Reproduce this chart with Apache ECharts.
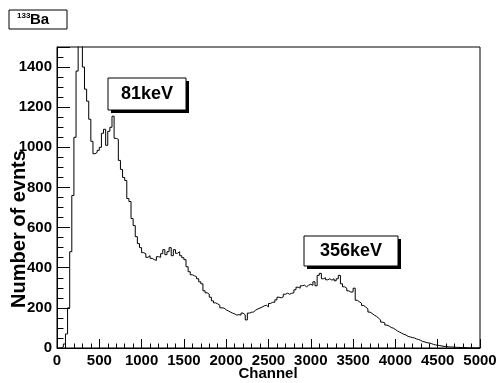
<!DOCTYPE html>
<html><head><meta charset="utf-8">
<script src="https://cdn.jsdelivr.net/npm/echarts@6/dist/echarts.min.js"></script>
<style>html,body{margin:0;padding:0;background:#fff}#c{width:500px;height:383px}</style>
</head><body><div id="c"></div>
<script>
// histogram: bin width in channels, counts per bin starting at channel 0
const binWidth = 25;
const counts = [
  0, 0, 5, 20, 70, 200, 480, 760,
  1050, 1380, 1520, 1520, 1400, 1290, 1230, 1140,
  1030, 968, 975, 985, 1000, 1070, 1090, 1010,
  1080, 1100, 1155, 1045, 1040, 935, 890, 850,
  835, 745, 730, 645, 610, 555, 520, 500,
  475, 470, 452, 460, 447, 440, 437, 455,
  452, 470, 490, 465, 480, 500, 460, 490,
  472, 480, 460, 450, 440, 405, 380, 365,
  360, 355, 345, 330, 320, 285, 275, 268,
  253, 235, 225, 220, 213, 200, 199, 190,
  185, 179, 174, 170, 164, 166, 164, 174,
  165, 140, 174, 178, 180, 189, 195, 199,
  204, 210, 213, 205, 222, 228, 228, 240,
  253, 250, 255, 268, 273, 268, 273, 275,
  290, 303, 298, 310, 313, 305, 313, 318,
  312, 330, 310, 362, 372, 345, 350, 340,
  345, 338, 345, 335, 345, 362, 320, 305,
  298, 285, 278, 280, 298, 238, 230, 223,
  212, 204, 195, 179, 172, 164, 158, 149,
  140, 129, 125, 114, 110, 102, 99, 92,
  85, 79, 74, 68, 65, 58, 55, 52,
  50, 45, 42, 38, 32, 30, 26, 25,
  22, 18, 15, 14, 12, 10, 8, 8,
  6, 5, 5, 4, 3, 3, 2, 2,
  2, 1, 1, 1, 1, 0, 1, 0
];
const xRange = [0, 5000];
const xStep = 500;
const yRange = [0, 1500];
const yStep = 200;
const xTitle = 'Channel';
const yTitle = 'Number of evnts';
const titleSup = '133';
const titleMain = 'Ba';
const peakLabels = ['81keV', '356keV'];

const pts = counts.map((v, i) => [i * binWidth, v]);
pts.push([xRange[1], counts[counts.length - 1]]);

const FONT = 'Liberation Sans, Arial, Helvetica, sans-serif';
const chart = echarts.init(document.getElementById('c'), null, {renderer: 'canvas'});

function labelBox(x, y, w, h, text, fs) {
  return {
    type: 'group', children: [
      {type: 'rect', shape: {x: x + 3, y: y + 3, width: w, height: h}, style: {fill: '#000'}},
      {type: 'rect', shape: {x: x, y: y, width: w, height: h}, style: {fill: '#fff', stroke: '#000', lineWidth: 1}},
      {type: 'text', x: x + w / 2, y: y + h / 2, style: {text: text, fill: '#000', font: 'bold ' + fs + 'px ' + FONT, textAlign: 'center', textVerticalAlign: 'middle'}}
    ]
  };
}

chart.setOption({
  animation: false,
  backgroundColor: '#fff',
  grid: {left: 57, right: 20, top: 47, bottom: 35, containLabel: false, outerBoundsMode: 'none',
    show: true, borderColor: '#000', borderWidth: 1, backgroundColor: '#fff'},
  xAxis: {
    type: 'value', min: xRange[0], max: xRange[1], interval: xStep,
    axisLine: {show: true, onZero: false, lineStyle: {color: '#000', width: 1}},
    axisTick: {show: true, inside: true, length: 9, lineStyle: {color: '#000', width: 1}},
    minorTick: {show: true, splitNumber: 5, length: 4.5, lineStyle: {color: '#000', width: 1}},
    splitLine: {show: false},
    axisLabel: {color: '#000', fontFamily: FONT, fontWeight: 'bold', fontSize: 15, margin: 5,
      formatter: v => String(v)}
  },
  yAxis: {
    type: 'value', min: yRange[0], max: yRange[1], interval: yStep,
    axisLine: {show: true, onZero: false, lineStyle: {color: '#000', width: 1}},
    axisTick: {show: true, inside: true, length: 13, lineStyle: {color: '#000', width: 1}},
    minorTick: {show: true, splitNumber: 4, length: 6.5, lineStyle: {color: '#000', width: 1}},
    splitLine: {show: false},
    axisLabel: {color: '#000', fontFamily: FONT, fontWeight: 'bold', fontSize: 15, margin: 5,
      formatter: v => (v % yStep === 0 ? String(v) : '')}
  },
  series: [{
    type: 'line', step: 'end', data: pts, showSymbol: false, clip: true,
    lineStyle: {color: '#000', width: 1}
  }],
  graphic: [
    {type: 'rect', shape: {x: 9, y: 10, width: 58, height: 19}, style: {fill: '#fff', stroke: '#000', lineWidth: 1}},
    {type: 'text', x: 17, y: 16, style: {text: titleSup, fill: '#000', font: 'bold 8px ' + FONT, textVerticalAlign: 'middle'}},
    {type: 'text', x: 30, y: 20, style: {text: titleMain, fill: '#000', font: 'bold 15px ' + FONT, textVerticalAlign: 'middle'}},
    {type: 'text', x: 19, y: 229, rotation: Math.PI / 2,
      style: {text: yTitle, fill: '#000', font: 'bold 20px ' + FONT, textAlign: 'center', textVerticalAlign: 'middle'}},
    {type: 'text', x: 268, y: 374,
      style: {text: xTitle, fill: '#000', font: 'bold 15px ' + FONT, textAlign: 'center', textVerticalAlign: 'middle'}},
    labelBox(108, 78, 78, 32, peakLabels[0], 18),
    labelBox(304, 236, 94, 30, peakLabels[1], 18)
  ]
});
</script>
</body></html>
